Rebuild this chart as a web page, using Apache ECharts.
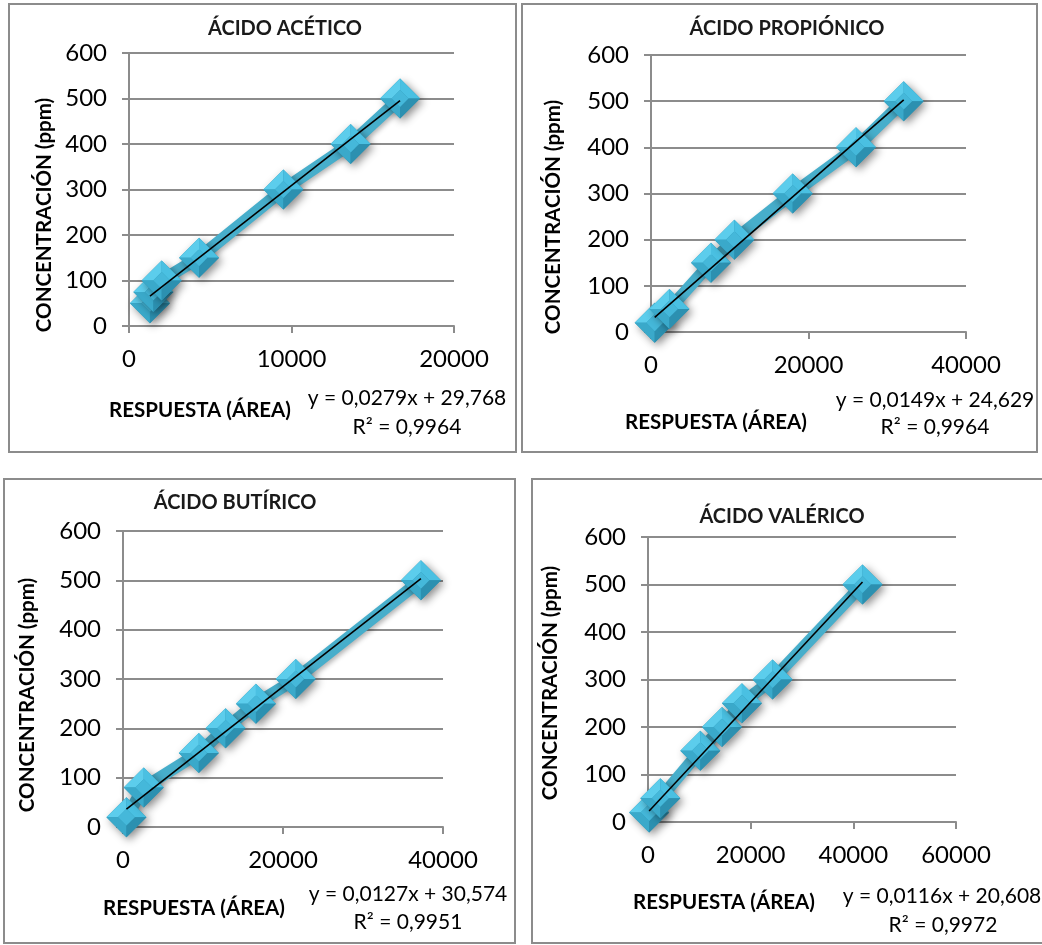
<!DOCTYPE html>
<html>
<head>
<meta charset="utf-8">
<script src="https://cdn.jsdelivr.net/npm/echarts@6/dist/echarts.min.js"></script>
<style>
  html, body { margin: 0; padding: 0; background: #fff; }
  #chart { width: 1042px; height: 945px; }
</style>
</head>
<body>
<div id="chart"></div>
<script>
// Calibration curves: peak area vs. concentration for four volatile fatty acids
const titles = ['ÁCIDO ACÉTICO', 'ÁCIDO PROPIÓNICO', 'ÁCIDO BUTÍRICO', 'ÁCIDO VALÉRICO'];

const aceticoArea = [1290, 1500, 2010, 4310, 9500, 13640, 16680];
const aceticoConc = [50, 75, 100, 150, 300, 400, 500];

const propionicoArea = [470, 2340, 7620, 10590, 17990, 26030, 32090];
const propionicoConc = [20, 50, 150, 200, 300, 400, 500];

const butiricoArea = [430, 2590, 9480, 12820, 16620, 21590, 37240];
const butiricoConc = [20, 80, 150, 200, 250, 300, 500];

const valericoArea = [220, 2400, 10190, 14410, 18300, 24270, 41790];
const valericoConc = [20, 50, 150, 200, 250, 300, 500];

// Linear fit coefficients (y = slope·x + intercept) and R²
const slopes = [0.0279, 0.0149, 0.0127, 0.0116];
const intercepts = [29.768, 24.629, 30.574, 20.608];
const slopeLabels = ['0,0279', '0,0149', '0,0127', '0,0116'];
const interceptLabels = ['29,768', '24,629', '30,574', '20,608'];
const r2Labels = ['0,9964', '0,9964', '0,9951', '0,9972'];

// X axis extents
const xMax = [20000, 40000, 40000, 60000];
const xStep = [10000, 20000, 20000, 20000];

const yTicks = [0, 600, 100];

const areas = [aceticoArea, propionicoArea, butiricoArea, valericoArea];
const concs = [aceticoConc, propionicoConc, butiricoConc, valericoConc];

// Layout of each panel
const frames = [
  { x: 9, y: 4, w: 507, h: 448 },
  { x: 522, y: 4, w: 515, h: 448 },
  { x: 4, y: 479, w: 511, h: 464 },
  { x: 532, y: 479, w: 520, h: 464 }
];
const grids = [
  { left: 129, top: 53, width: 325, height: 273 },
  { left: 651, top: 55, width: 315, height: 277 },
  { left: 123, top: 531, width: 320, height: 296 },
  { left: 648, top: 537, width: 308, height: 285 }
];
const titlePos = [[285, 29], [787, 29], [235, 503], [782, 517]];
const yNamePos = [[44, 215], [553, 217], [27, 695], [550, 683]];
const xNamePos = [[200, 410], [716, 422], [194, 908], [724, 902]];
const eqPos = [[407, 398], [935, 400], [408, 894], [942, 896]];
const r2Pos = [[407, 427], [935, 427], [408, 922], [943, 925]];

const FONT = 'Lato, "Open Sans", sans-serif';
const GRAY = '#8c8c8c';

function diamondItem(params, api) {
  const p = api.coord([api.value(0), api.value(1)]);
  const cx = p[0], cy = p[1], r = 20;
  const T = [cx, cy - r], R = [cx + r, cy], B = [cx, cy + r], L = [cx - r, cy];
  const k = 0.42;
  const iT = [cx, cy - r * k], iR = [cx + r * k, cy], iB = [cx, cy + r * k], iL = [cx - r * k, cy];
  return {
    type: 'group',
    children: [
      { type: 'polygon', shape: { points: [T, R, B, L] },
        style: { fill: '#2f95b4', shadowBlur: 8, shadowOffsetX: 3, shadowOffsetY: 3, shadowColor: 'rgba(0,0,0,0.45)' } },
      { type: 'polygon', shape: { points: [T, iT, iL, L] }, style: { fill: '#5ccdec' } },
      { type: 'polygon', shape: { points: [T, R, iR, iT] }, style: { fill: '#4ac0e2' } },
      { type: 'polygon', shape: { points: [L, iL, iB, B] }, style: { fill: '#3aa9ca' } },
      { type: 'polygon', shape: { points: [R, B, iB, iR] }, style: { fill: '#2c90b0' } },
      { type: 'polygon', shape: { points: [iT, iR, iB, iL] }, style: { fill: '#45b8da' } }
    ]
  };
}

const option = {
  backgroundColor: '#ffffff',
  animation: false,
  grid: grids.map(g => Object.assign({ containLabel: false }, g)),
  xAxis: grids.map((g, i) => ({
    type: 'value', gridIndex: i, min: 0, max: xMax[i], interval: xStep[i],
    axisLine: { show: true, onZero: false, lineStyle: { color: GRAY, width: 2 } },
    axisTick: { show: true, length: 7, lineStyle: { color: GRAY, width: 2 } },
    axisLabel: { color: '#000', fontSize: 24, fontFamily: FONT, margin: 21, formatter: v => String(v) },
    splitLine: { show: false }
  })),
  yAxis: grids.map((g, i) => ({
    type: 'value', gridIndex: i, min: yTicks[0], max: yTicks[1], interval: yTicks[2],
    axisLine: { show: true, lineStyle: { color: GRAY, width: 2 } },
    axisTick: { show: true, length: 7, lineStyle: { color: GRAY, width: 2 } },
    axisLabel: { color: '#000', fontSize: 24, fontFamily: FONT, margin: 22, formatter: v => String(v) },
    splitLine: { show: true, lineStyle: { color: GRAY, width: 2 } }
  })),
  series: [],
  graphic: []
};

areas.forEach((xs, i) => {
  const pts = xs.map((x, j) => [x, concs[i][j]]);
  const x0 = Math.min(...xs), x1 = Math.max(...xs);
  option.series.push({
    type: 'line', xAxisIndex: i, yAxisIndex: i, data: pts, symbol: 'none', z: 3,
    lineStyle: { color: '#47aecb', width: 12, shadowBlur: 5, shadowOffsetX: 2, shadowOffsetY: 2, shadowColor: 'rgba(0,0,0,0.3)' }
  });
  option.series.push({
    type: 'custom', xAxisIndex: i, yAxisIndex: i, data: pts, z: 4,
    encode: { x: 0, y: 1 }, renderItem: diamondItem
  });
  option.series.push({
    type: 'line', xAxisIndex: i, yAxisIndex: i, symbol: 'none', z: 5,
    data: [[x0, slopes[i] * x0 + intercepts[i]], [x1, slopes[i] * x1 + intercepts[i]]],
    lineStyle: { color: '#000', width: 1.6 }
  });

  const f = frames[i];
  option.graphic.push({
    type: 'rect', shape: { x: f.x, y: f.y, width: f.w, height: f.h },
    style: { fill: 'none', stroke: GRAY, lineWidth: 2 }, z: 1
  });
  option.graphic.push({
    type: 'text', x: titlePos[i][0], y: titlePos[i][1],
    style: { text: titles[i], font: 'bold 20px ' + FONT, fill: '#1a1a1a', align: 'center', verticalAlign: 'middle' }
  });
  option.graphic.push({
    type: 'text', x: yNamePos[i][0], y: yNamePos[i][1], rotation: Math.PI / 2,
    style: { text: 'CONCENTRACIÓN (ppm)', font: 'bold 20.5px ' + FONT, fill: '#000', align: 'center', verticalAlign: 'middle' }
  });
  option.graphic.push({
    type: 'text', x: xNamePos[i][0], y: xNamePos[i][1],
    style: { text: 'RESPUESTA (ÁREA)', font: 'bold 20.5px ' + FONT, fill: '#000', align: 'center', verticalAlign: 'middle' }
  });
  option.graphic.push({
    type: 'text', x: eqPos[i][0], y: eqPos[i][1],
    style: { text: 'y = ' + slopeLabels[i] + 'x + ' + interceptLabels[i], font: '21px ' + FONT, fill: '#000', align: 'center', verticalAlign: 'middle' }
  });
  option.graphic.push({
    type: 'text', x: r2Pos[i][0], y: r2Pos[i][1],
    style: { text: 'R² = ' + r2Labels[i], font: '21px ' + FONT, fill: '#000', align: 'center', verticalAlign: 'middle' }
  });
});

const chart = echarts.init(document.getElementById('chart'), null, { renderer: 'canvas' });
chart.setOption(option);
</script>
</body>
</html>
